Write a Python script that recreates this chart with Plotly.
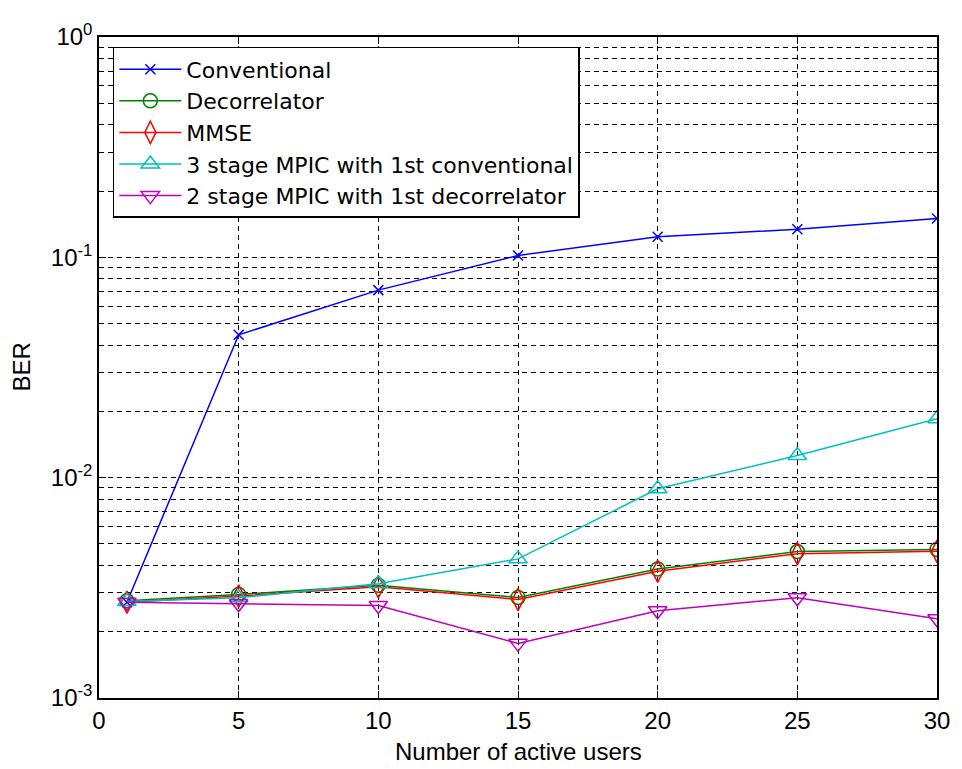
import plotly.graph_objects as go

users = [1, 5, 10, 15, 20, 25, 30]

ber_conventional = [0.00272, 0.0445, 0.071, 0.102, 0.124, 0.134, 0.150]
ber_decorrelator = [0.00276, 0.00295, 0.00325, 0.00286, 0.00385, 0.00462, 0.00472]
ber_mmse = [0.00272, 0.00290, 0.00320, 0.00280, 0.00376, 0.00452, 0.00463]
ber_mpic3_conv = [0.00274, 0.00285, 0.00330, 0.00428, 0.0089, 0.0126, 0.0185]
ber_mpic2_decor = [0.00272, 0.00268, 0.00263, 0.00177, 0.00249, 0.00285, 0.00229]

series_names = [
    "Conventional",
    "Decorrelator",
    "MMSE",
    "3 stage MPIC with 1st conventional",
    "2 stage MPIC with 1st decorrelator",
]

x_ticks = [0, 5, 10, 15, 20, 25, 30]
y_decades = [1e-3, 1e-2, 1e-1, 1e0]
y_decade_labels = ["10<sup>-3</sup>", "10<sup>-2</sup>", "10<sup>-1</sup>", "10<sup>0</sup>"]
y_minor = [d * m for d in y_decades[:-1] for m in range(2, 10)]

colors = ["#0000ff", "#008000", "#ff0000", "#00bfbf", "#bf00bf"]
symbols = ["x-thin-open", "circle-open", "diamond-tall-open", "triangle-up-open", "triangle-down-open"]
sizes = [10, 14, 16, 16, 16]
all_series = [ber_conventional, ber_decorrelator, ber_mmse, ber_mpic3_conv, ber_mpic2_decor]

fig = go.Figure()
for name, ys, c, s, sz in zip(series_names, all_series, colors, symbols, sizes):
    fig.add_trace(go.Scatter(
        x=users, y=ys, name=name, mode="lines+markers",
        line=dict(color=c, width=1.5),
        marker=dict(symbol=s, size=sz, color=c, line=dict(color=c, width=1.5)),
    ))

font_family = "Liberation Sans, Arial, sans-serif"
grid_dash = "5px,4px"

# page body has an 8px margin: the figure is drawn from (8, 8)
fig.update_layout(
    width=954, height=761,
    margin=dict(l=91, r=17, t=24, b=71),
    paper_bgcolor="white", plot_bgcolor="white",
    font=dict(family=font_family, size=24, color="black"),
    showlegend=True,
    legend=dict(
        x=0.0165, y=0.985, xanchor="left", yanchor="top",
        bgcolor="white", bordercolor="black", borderwidth=1.5,
        font=dict(size=22, family="DejaVu Sans, sans-serif", color="black"),
        itemwidth=62, tracegroupgap=0,
    ),
    xaxis=dict(
        range=[0, 30], tickvals=x_ticks, ticktext=[str(v) for v in x_ticks],
        showline=True, linecolor="black", linewidth=1.5, mirror="allticks",
        ticks="inside", ticklen=7, tickcolor="black",
        showgrid=True, gridcolor="black", gridwidth=1, griddash=grid_dash,
        zeroline=False, tickfont=dict(size=24),
    ),
    yaxis=dict(
        type="log", range=[-3, 0],
        tickvals=y_decades, ticktext=y_decade_labels,
        showline=True, linecolor="black", linewidth=1.5, mirror="allticks",
        ticks="inside", ticklen=7, tickcolor="black",
        showgrid=True, gridcolor="black", gridwidth=1, griddash=grid_dash,
        zeroline=False, tickfont=dict(size=24),
        minor=dict(tickvals=y_minor, ticks="inside", ticklen=4, tickcolor="black",
                   showgrid=True, gridcolor="black", gridwidth=1, griddash=grid_dash),
    ),
    annotations=[
        dict(text="Number of active users", x=0.5, y=-0.081, xref="paper", yref="paper",
             xanchor="center", yanchor="middle", showarrow=False, font=dict(size=24)),
        dict(text="BER", x=-0.093, y=0.5, xref="paper", yref="paper", textangle=-90,
             xanchor="center", yanchor="middle", showarrow=False, font=dict(size=24)),
    ],
)

fig.write_html("out.html")
